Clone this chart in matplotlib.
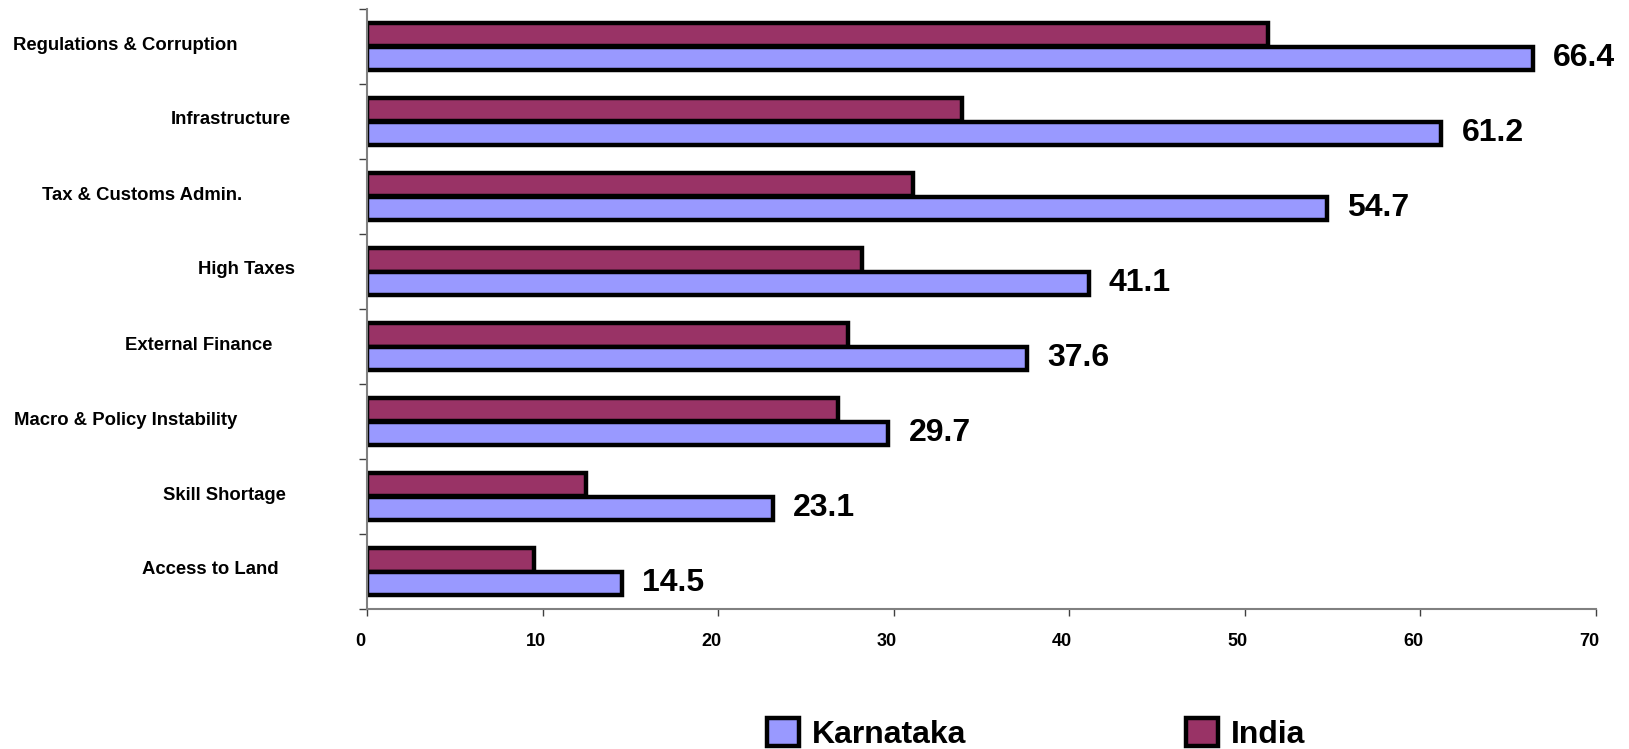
import numpy as np
import matplotlib
matplotlib.use('Agg')
import matplotlib.pyplot as plt
from matplotlib.patches import Patch
from matplotlib.transforms import blended_transform_factory, ScaledTranslation

plt.rcParams['font.family'] = ['Liberation Sans', 'DejaVu Sans']

categories = ['Regulations & Corruption', 'Infrastructure', 'Tax & Customs Admin.',
              'High Taxes', 'External Finance', 'Macro & Policy Instability',
              'Skill Shortage', 'Access to Land']
karnataka = [66.4, 61.2, 54.7, 41.1, 37.6, 29.7, 23.1, 14.5]
india = [51.3, 33.9, 31.1, 28.2, 27.4, 26.8, 12.5, 9.5]
xticks = [0, 10, 20, 30, 40, 50, 60, 70]

# right edge of each category label, figure pixels (labels are not aligned in the original)
label_right = [238, 291, 242, 295, 272, 237, 286, 279]

W, H = 1629, 749
fig = plt.figure(figsize=(W / 100, H / 100), dpi=100)
ax = fig.add_axes([367 / W, 1 - 609 / H, (1596 - 367) / W, 600 / H])

y = np.arange(len(categories))
h = 0.313
ax.barh(y - h / 2, india, height=h, color='#993366', edgecolor='black', linewidth=3.2, label='India')
ax.barh(y + h / 2, karnataka, height=h, color='#9999FF', edgecolor='black', linewidth=3.2, label='Karnataka')

for yi, v in zip(y, karnataka):
    ax.annotate('%.1f' % v, xy=(v, yi + h / 2), xytext=(20, 0), textcoords='offset pixels',
                ha='left', va='center', fontsize=23, fontweight='bold')

trans = blended_transform_factory(fig.transFigure, ax.transData)
for yi, name, xr in zip(y, categories, label_right):
    ax.text(xr / W, yi - 0.02, name, transform=trans, ha='right', va='center',
            fontsize=13.3, fontweight='bold')

ax.set_xlim(0, 70)
ax.set_ylim(len(categories) - 0.5, -0.5)
ax.set_xticks(xticks)
ax.set_xticklabels([str(t) for t in xticks], fontsize=13, fontweight='bold')
ax.set_yticks(np.arange(len(categories) + 1) - 0.5)
ax.set_yticklabels([])

for s in ['top', 'right']:
    ax.spines[s].set_visible(False)
for s in ['left', 'bottom']:
    ax.spines[s].set_color('#808080')
    ax.spines[s].set_linewidth(1.5)
ax.tick_params(axis='x', length=5, width=1, color='#404040', pad=12)
ax.tick_params(axis='y', length=6, width=1, color='#404040')

for lab in ax.get_xticklabels():
    lab.set_transform(lab.get_transform() + ScaledTranslation(-7 / 100, 0, fig.dpi_scale_trans))

handles = [Patch(facecolor='#9999FF', edgecolor='black', linewidth=3.2, label='Karnataka'),
           Patch(facecolor='#993366', edgecolor='black', linewidth=3.2, label='India')]
fig.legend(handles=handles, loc='center', bbox_to_anchor=(1036 / W, 1 - 734 / H), ncol=2,
           frameon=False, prop={'size': 23, 'weight': 'bold'}, handlelength=1.0, handleheight=1.0,
           handletextpad=0.4, columnspacing=6.9, borderaxespad=0)

fig.savefig('out.png', dpi=100)
